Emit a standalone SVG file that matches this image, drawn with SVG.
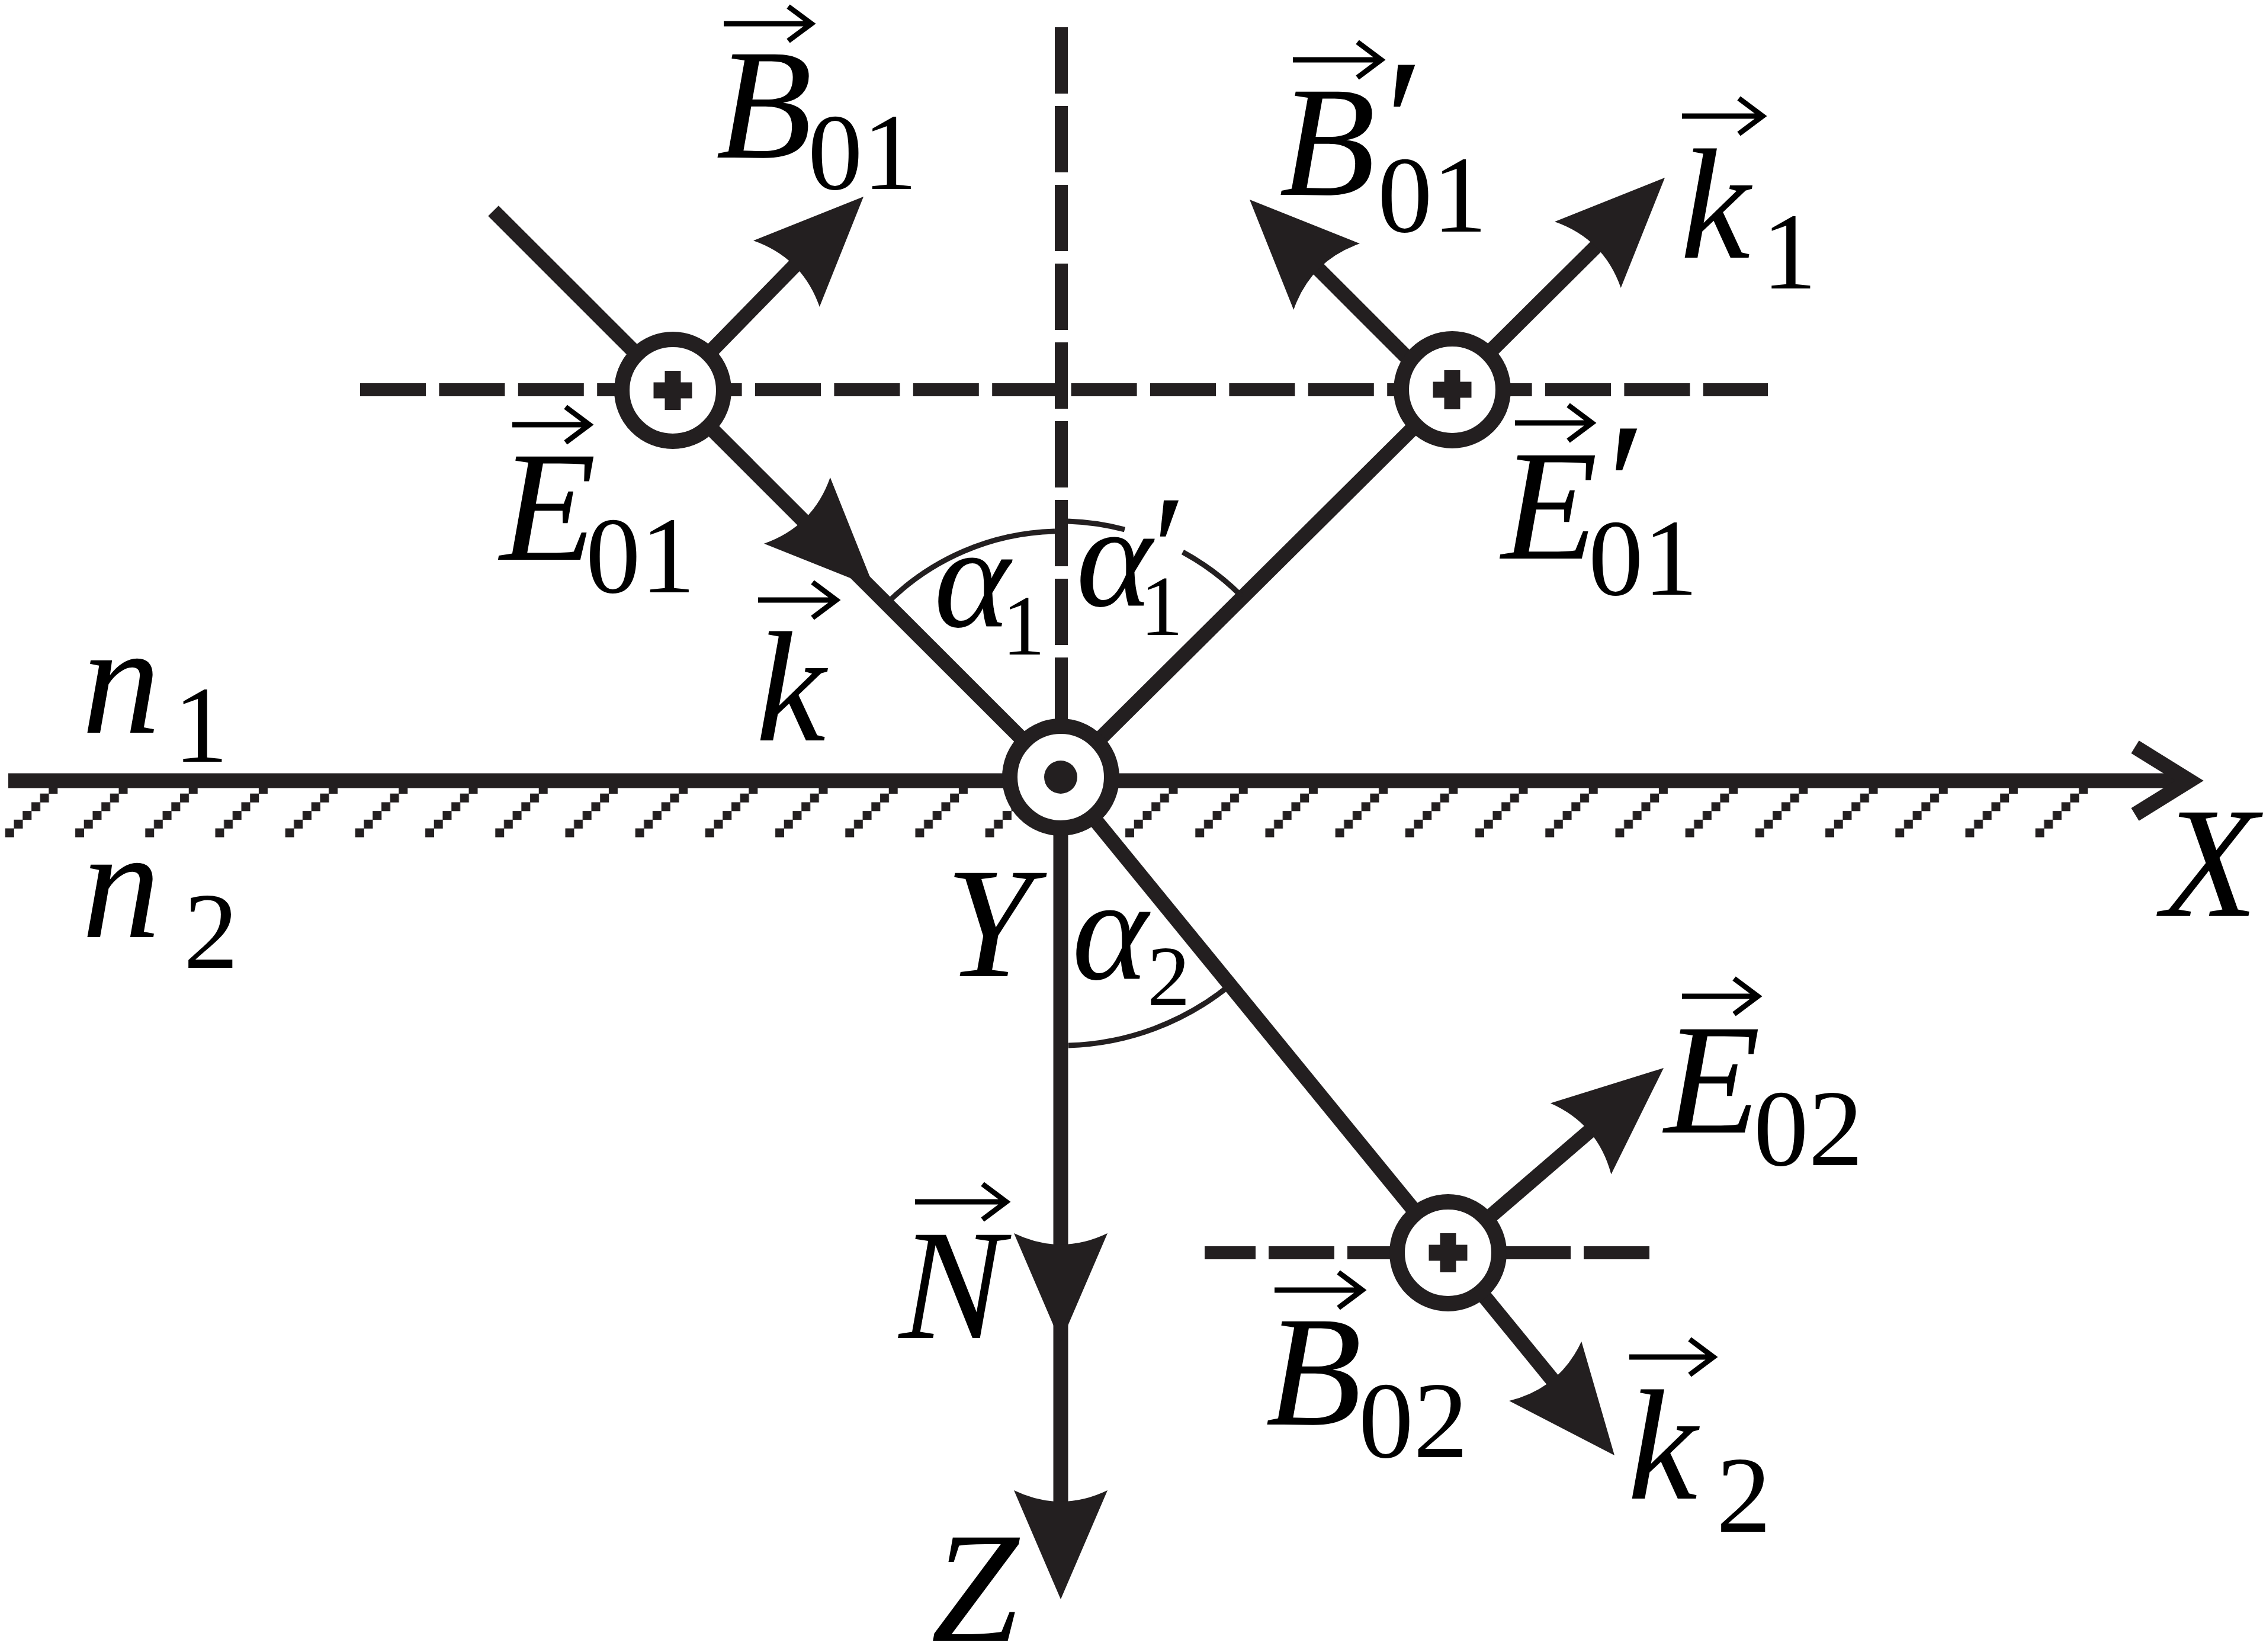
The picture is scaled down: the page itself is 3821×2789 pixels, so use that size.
<svg xmlns="http://www.w3.org/2000/svg" width="3821" height="2789" viewBox="0 0 3821 2789">
<style>
.ln{stroke:#231f20;stroke-width:25;fill:none}
.dash{stroke:#231f20;stroke-width:22;fill:none}
.arc{stroke:#231f20;stroke-width:9;fill:none}
.node{fill:#fff;stroke:#231f20;stroke-width:26}
.mk{fill:#231f20}
.va{stroke:#000;stroke-width:9;fill:none;stroke-linejoin:miter}
.t{font-family:"Liberation Serif","Times New Roman",serif;fill:#000}
.i{font-style:italic;font-size:266px}
.s{font-size:185px}
.g{font-style:italic;font-size:245px}
.gs{font-size:145px}
.p{font-style:italic;font-size:300px}
.ps{font-style:italic;font-size:260px}
</style>
<defs>
<path id="ah" d="M0,0 L-184,-79 Q-146,0 -184,79 Z"/>
<path id="plus" d="M-32.5,-13.5h65v27h-65z M-13.5,-33h27v66h-27z"/>
<pattern id="hatch" patternUnits="userSpaceOnUse" x="-3" y="1325" width="118.2" height="100">
<rect x="85.3" y="0" width="15" height="15" fill="#231f20"/>
<rect x="70.6" y="14.7" width="15" height="15" fill="#231f20"/>
<rect x="55.9" y="29.4" width="15" height="15" fill="#231f20"/>
<rect x="41.2" y="44.1" width="15" height="15" fill="#231f20"/>
<rect x="26.5" y="58.8" width="15" height="15" fill="#231f20"/>
<rect x="11.8" y="73.5" width="15" height="15" fill="#231f20"/>
</pattern>
</defs>
<rect width="3821" height="2789" fill="#fff"/>

<g id="interface">
<rect x="0" y="1325" width="3535" height="95" fill="url(#hatch)"/>
<line x1="14" y1="1318" x2="3700" y2="1318" class="ln" stroke-width="24"/>
<polyline points="3605,1261 3697,1318 3605,1375" class="ln" stroke-width="23" stroke-linejoin="miter"/>
</g>

<g id="connectors">
<line x1="1792" y1="46" x2="1792" y2="1230" class="dash" stroke-dasharray="112 21"/>
<line x1="608" y1="658" x2="2985" y2="658" class="dash" stroke-dasharray="111 22.4"/>
<line x1="2034" y1="2115" x2="2787" y2="2115" class="dash" stroke-dasharray="111 22" stroke-dashoffset="25"/>
<line x1="833" y1="356" x2="1791" y2="1313" class="ln"/>
<line x1="1136" y1="659" x2="1350" y2="440" class="ln"/>
<line x1="1791" y1="1313" x2="2700" y2="411" class="ln"/>
<line x1="2440" y1="668" x2="2222" y2="450" class="ln"/>
<line x1="1791" y1="1313" x2="2625" y2="2334" class="ln"/>
<line x1="2445" y1="2115" x2="2688" y2="1906" class="ln"/>
<line x1="1791" y1="1313" x2="1791" y2="2540" class="ln" stroke-width="26"/>
<path class="arc" d="M1497,1019 A416,416 0 0 1 1781,897"/>
<path class="arc" d="M1803,880 A433,433 0 0 1 1899,894"/>
<path class="arc" d="M1997,932 A433,433 0 0 1 2097,1007"/>
<path class="arc" d="M1804,1765 A452,452 0 0 0 2077,1663"/>
<use href="#ah" class="mk" transform="translate(1476,992) rotate(45)"/>
<use href="#ah" class="mk" transform="translate(1458,332) rotate(-45)"/>
<use href="#ah" class="mk" transform="translate(2811,300) rotate(-45)"/>
<use href="#ah" class="mk" transform="translate(2110,337) rotate(-135)"/>
<use href="#ah" class="mk" transform="translate(1791,2266) rotate(90)"/>
<use href="#ah" class="mk" transform="translate(1791,2700) rotate(90)"/>
<use href="#ah" class="mk" transform="translate(2809,1803) rotate(-40.5)"/>
<use href="#ah" class="mk" transform="translate(2726,2457) rotate(50.6)"/>
</g>

<g id="node-origin">
<circle cx="1791" cy="1312" r="86" class="node"/>
<circle cx="1791" cy="1312" r="28" class="mk"/>
</g>
<g id="node-incident">
<circle cx="1136" cy="659" r="86" class="node"/>
<use href="#plus" class="mk" transform="translate(1136,659)"/>
</g>
<g id="node-reflected">
<circle cx="2452" cy="658" r="86" class="node"/>
<use href="#plus" class="mk" transform="translate(2452,658)"/>
</g>
<g id="node-refracted">
<circle cx="2445" cy="2115" r="86" class="node"/>
<use href="#plus" class="mk" transform="translate(2445,2115)"/>
</g>

<g id="label-B01">
<path class="va" d="M1222,40 H1366 M1331,11 L1370,40 L1331,69"/>
<text class="t"><tspan class="i" x="1209" y="266">B</tspan><tspan class="s" x="1364" y="319">01</tspan></text>
</g>
<g id="label-E01">
<path class="va" d="M865,717 H991 M955,687 L995,717 L955,747"/>
<text class="t"><tspan class="i" x="844" y="945">E</tspan><tspan class="s" x="989" y="1000">01</tspan></text>
</g>
<g id="label-B01p">
<path class="va" d="M2183,101 H2328 M2292,71 L2332,101 L2292,131"/>
<text class="t"><tspan class="i" x="2160" y="329">B</tspan><tspan class="p" x="2320" y="306">′</tspan><tspan class="s" x="2326" y="391">01</tspan></text>
</g>
<g id="label-k1">
<path class="va" d="M2840,196 H2972 M2936,166 L2976,196 L2936,226"/>
<text class="t"><tspan class="i" x="2837" y="435">k</tspan><tspan class="s" x="2975" y="487">1</tspan></text>
</g>
<g id="label-E01p">
<path class="va" d="M2558,714 H2684 M2648,684 L2688,714 L2648,744"/>
<text class="t"><tspan class="i" x="2535" y="943">E</tspan><tspan class="p" x="2695" y="920">′</tspan><tspan class="s" x="2682" y="1004">01</tspan></text>
</g>
<g id="label-k">
<path class="va" d="M1280,1013 H1408 M1372,983 L1412,1013 L1372,1043"/>
<text class="t"><tspan class="i" x="1276" y="1250">k</tspan></text>
</g>
<g id="label-alpha1">
<text class="t"><tspan class="g" x="1577" y="1058">α</tspan><tspan class="gs" x="1692" y="1105">1</tspan></text>
</g>
<g id="label-alpha1p">
<text class="t"><tspan class="g" x="1817" y="1023">α</tspan><tspan class="ps" x="1930" y="1015">′</tspan><tspan class="gs" x="1925" y="1072">1</tspan></text>
</g>
<g id="label-alpha2">
<text class="t"><tspan class="g" x="1810" y="1653">α</tspan><tspan class="gs" x="1937" y="1697">2</tspan></text>
</g>
<g id="label-n1">
<text class="t"><tspan class="i" x="138" y="1237">n</tspan><tspan class="s" x="293" y="1286">1</tspan></text>
</g>
<g id="label-n2">
<text class="t"><tspan class="i" x="138" y="1582">n</tspan><tspan class="s" x="310" y="1634">2</tspan></text>
</g>
<g id="label-Y"><text class="t i" x="1596" y="1648">Y</text></g>
<g id="label-X"><text class="t i" x="3650" y="1546">X</text></g>
<g id="label-Z"><text class="t i" x="1572" y="2770">Z</text></g>
<g id="label-N">
<path class="va" d="M1545,2029 H1695 M1659,1999 L1699,2029 L1659,2059"/>
<text class="t i" x="1518" y="2259">N</text>
</g>
<g id="label-E02">
<path class="va" d="M2840,1682 H2964 M2928,1652 L2968,1682 L2928,1712"/>
<text class="t"><tspan class="i" x="2810" y="1912">E</tspan><tspan class="s" x="2961" y="1967">02</tspan></text>
</g>
<g id="label-B02">
<path class="va" d="M2152,2178 H2296 M2260,2148 L2300,2178 L2260,2208"/>
<text class="t"><tspan class="i" x="2137" y="2405">B</tspan><tspan class="s" x="2294" y="2460">02</tspan></text>
</g>
<g id="label-k2">
<path class="va" d="M2751,2291 H2889 M2853,2261 L2893,2291 L2853,2321"/>
<text class="t"><tspan class="i" x="2748" y="2530">k</tspan><tspan class="s" x="2898" y="2586">2</tspan></text>
</g>
</svg>
